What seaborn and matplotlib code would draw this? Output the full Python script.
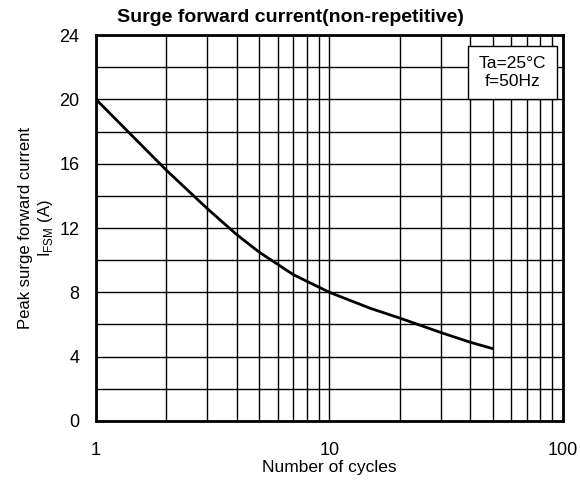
import numpy as np
import pandas as pd
import matplotlib
matplotlib.use("Agg")
import matplotlib.pyplot as plt
import seaborn as sns
from matplotlib.ticker import FixedLocator, LogLocator, NullFormatter

# values
cycles = [1, 2, 3, 4, 5, 7, 10, 15, 20, 30, 40, 50]
i_fsm = [20.0, 15.6, 13.2, 11.6, 10.5, 9.1, 8.0, 7.0, 6.4, 5.5, 4.9, 4.5]

y_ticks = [0, 4, 8, 12, 16, 20, 24]
x_ticks = [1, 10, 100]
x_tick_labels = ["1", "10", "100"]

sns.set_style("white")
plt.rcParams['font.family'] = ['Liberation Sans', 'DejaVu Sans']
plt.rcParams['mathtext.fontset'] = 'custom'
plt.rcParams['mathtext.rm'] = 'Liberation Sans'
plt.rcParams['text.color'] = 'black'
plt.rcParams['axes.labelcolor'] = 'black'
plt.rcParams['xtick.color'] = 'black'
plt.rcParams['ytick.color'] = 'black'

df = pd.DataFrame({"cycles": cycles, "ifsm": i_fsm})

fig = plt.figure(figsize=(5.8, 4.8), dpi=100)
ax = fig.add_axes([0.1655, 0.123, 0.805, 0.804])

sns.lineplot(data=df, x="cycles", y="ifsm", color="black", linewidth=2, ax=ax, zorder=3)

ax.set_xscale("log")
ax.set_xlim(1, 100)
ax.set_ylim(0, 24)
ax.xaxis.set_major_locator(FixedLocator(x_ticks))
ax.set_xticklabels(x_tick_labels)
ax.xaxis.set_minor_locator(LogLocator(base=10, subs=np.arange(2, 10)))
ax.xaxis.set_minor_formatter(NullFormatter())
ax.set_yticks(y_ticks)
ax.yaxis.set_minor_locator(FixedLocator(np.arange(2, 24, 4)))

ax.grid(which="both", color="black", linewidth=1.0)
ax.tick_params(which="both", length=0, labelsize=13)
ax.tick_params(axis="y", pad=12)
ax.tick_params(axis="x", pad=15)
for s in ax.spines.values():
    s.set_color("black")
    s.set_linewidth(2)

fig.suptitle("Surge forward current(non-repetitive)", x=0.5, y=0.982, fontsize=14, fontweight="bold")
ax.set_xlabel("Number of cycles", fontsize=12.5, labelpad=1)
ax.set_ylabel("Peak surge forward current\nI$_{\\mathrm{FSM}}$ (A)", fontsize=12, labelpad=3)

ax.text(0.892, 0.945, "Ta=25°C\nf=50Hz", transform=ax.transAxes, ha="center", va="top",
        fontsize=12.5, linespacing=1.2, zorder=5,
        bbox=dict(boxstyle="square,pad=0.6", facecolor="white", edgecolor="black", linewidth=1))

fig.savefig("out.png", dpi=100)
